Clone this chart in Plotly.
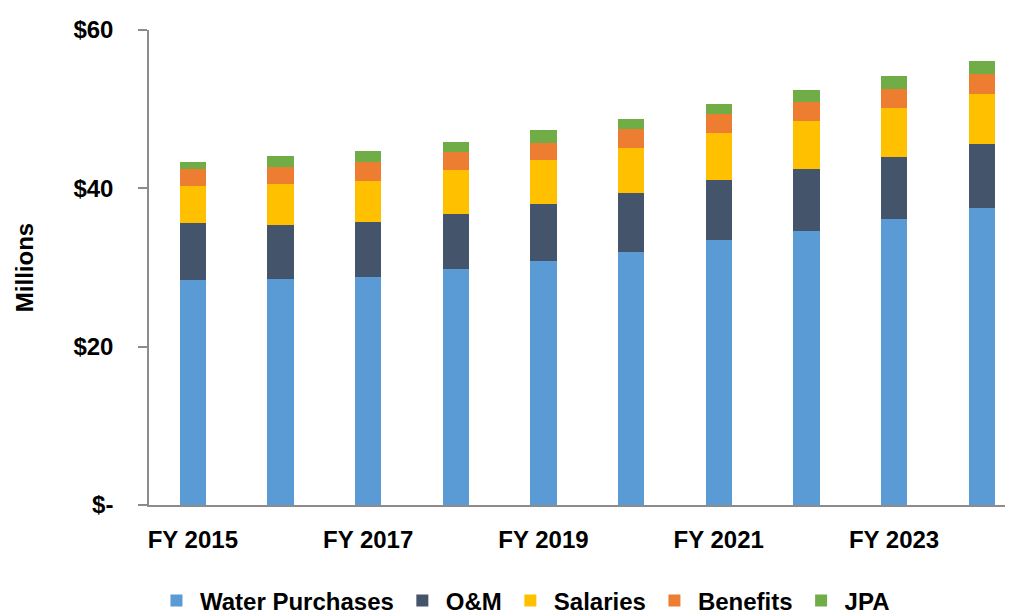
import plotly.graph_objects as go

categories = ["FY 2015", "FY 2016", "FY 2017", "FY 2018", "FY 2019",
              "FY 2020", "FY 2021", "FY 2022", "FY 2023", "FY 2024"]
water_purchases = [28.4, 28.6, 28.8, 29.8, 30.8, 31.9, 33.5, 34.6, 36.1, 37.5]
om = [7.25, 6.8, 6.9, 7.0, 7.25, 7.5, 7.5, 7.9, 7.9, 8.1]
salaries = [4.6, 5.1, 5.25, 5.55, 5.55, 5.75, 6.0, 5.95, 6.2, 6.35]
benefits = [2.25, 2.2, 2.4, 2.3, 2.15, 2.4, 2.4, 2.45, 2.4, 2.5]
jpa = [0.85, 1.35, 1.35, 1.2, 1.6, 1.25, 1.3, 1.5, 1.55, 1.65]

x_tick_labels = categories[::2]
y_tick_vals = [0, 20, 40, 60]
y_tick_text = ["$-", "$20", "$40", "$60"]

series = [
    ("Water Purchases", water_purchases, "#5B9BD5"),
    ("O&M", om, "#44546A"),
    ("Salaries", salaries, "#FFC000"),
    ("Benefits", benefits, "#ED7D31"),
    ("JPA", jpa, "#70AD47"),
]

FONT = "Liberation Sans, Arial, sans-serif"

fig = go.Figure()
for name, vals, color in series:
    fig.add_trace(go.Bar(
        x=categories, y=vals, name=name,
        marker=dict(color=color, line=dict(width=0)),
    ))

# the page body has an 8px margin, so the figure is 8px smaller on each side
fig.update_layout(
    width=1005, height=607,
    barmode="stack", bargap=0.70,
    paper_bgcolor="white", plot_bgcolor="white",
    margin=dict(l=141, r=0, t=22, b=110, autoexpand=False),
    font=dict(family=FONT, size=24, color="#000000", weight="bold"),
    showlegend=True,
    legend=dict(
        orientation="h", x=0.434, xanchor="center", y=-0.202, yanchor="middle",
        font=dict(family=FONT, size=24, color="#000000", weight="bold"),
        itemwidth=37, traceorder="normal", tracegroupgap=0,
    ),
)

fig.update_xaxes(
    type="category",
    range=[-0.5, 9.357],
    tickmode="array", tickvals=x_tick_labels, ticktext=x_tick_labels,
    showline=True, linecolor="#8C8C8C", linewidth=1.5,
    ticks="", showgrid=False, zeroline=False,
    tickfont=dict(family=FONT, size=24, color="#000000", weight="bold"),
    ticklabelstandoff=12,
    automargin=False,
)

fig.update_yaxes(
    range=[0, 60],
    tickmode="array", tickvals=y_tick_vals, ticktext=y_tick_text,
    showline=True, linecolor="#8C8C8C", linewidth=1.5,
    ticks="outside", ticklen=9, tickcolor="#8C8C8C", tickwidth=1.5,
    showgrid=False, zeroline=False,
    tickfont=dict(family=FONT, size=24, color="#000000", weight="bold"),
    ticklabelstandoff=20,
    title=dict(text="Millions", standoff=33,
               font=dict(family=FONT, size=24, color="#000000", weight="bold")),
    automargin=False,
)

fig.write_html("out.html")
